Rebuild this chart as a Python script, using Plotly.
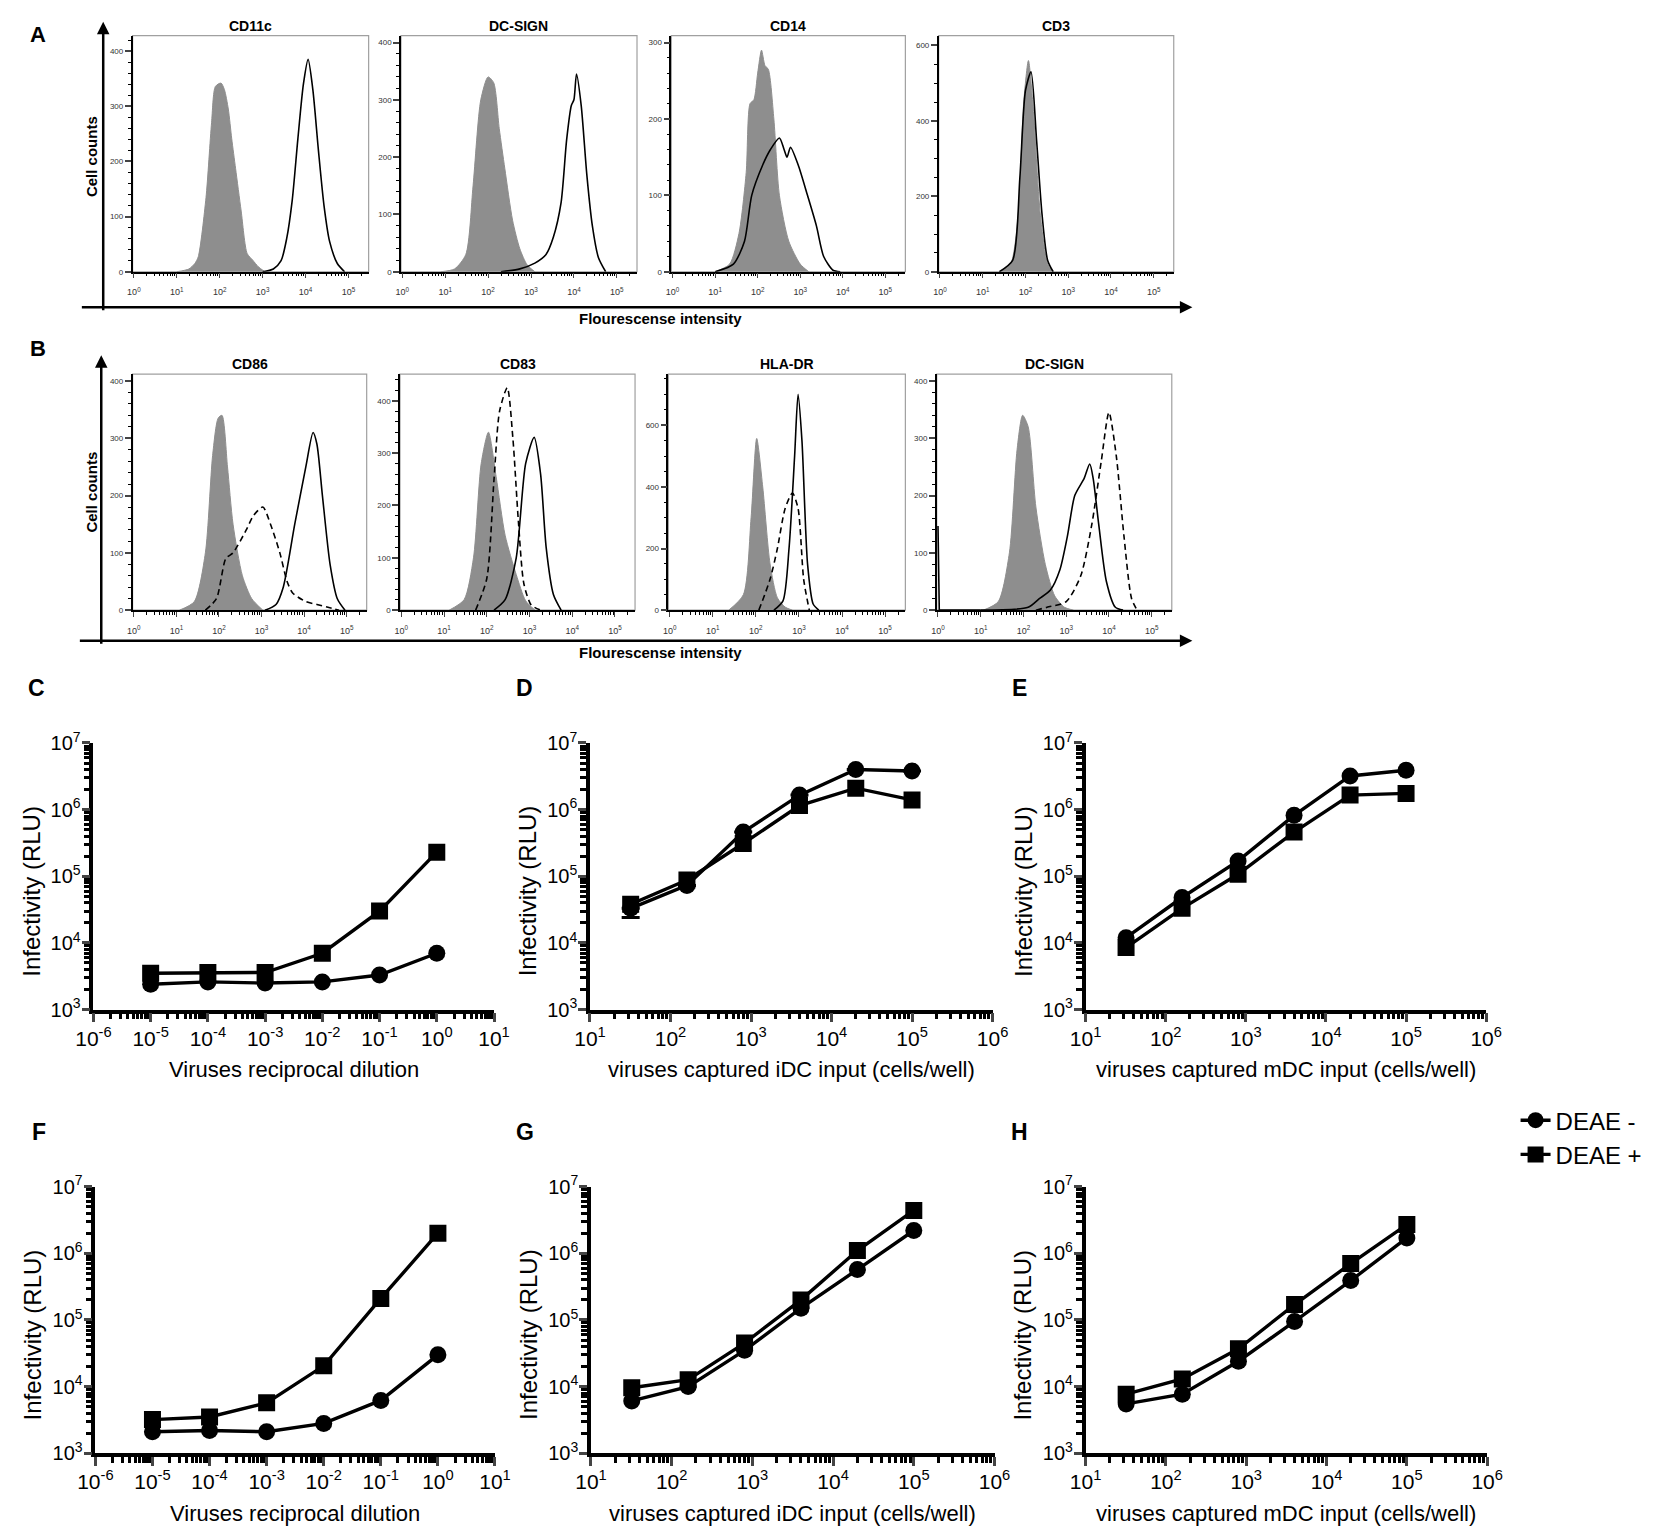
import plotly.graph_objects as go

W, H = 1654, 1540
FONT = "Liberation Sans, Arial, sans-serif"

# ---------- flow cytometry histograms (log10 intensity, cell counts) ----------
# A: iDC phenotype, grey = isotype, black = marker
A1_ISO_E = [1.0, 1.28, 1.42, 1.5, 1.68, 1.81, 1.9, 2.03, 2.11, 2.2, 2.28, 2.37, 2.5, 2.64, 2.77, 2.9, 3.05]
A1_ISO_N = [0, 5, 15, 27, 134, 270, 336, 342, 330, 295, 241, 187, 110, 33, 21, 9, 0]
A1_POS_E = [3.0, 3.25, 3.43, 3.56, 3.69, 3.82, 3.95, 4.06, 4.17, 4.3, 4.43, 4.56, 4.74, 4.91]
A1_POS_N = [0, 5, 20, 60, 130, 240, 340, 385, 330, 220, 120, 55, 15, 0]

A2_ISO_E = [0.9, 1.22, 1.48, 1.65, 1.83, 2.0, 2.13, 2.26, 2.39, 2.57, 2.74, 2.91, 3.09]
A2_ISO_N = [0, 5, 30, 150, 300, 340, 330, 250, 180, 90, 40, 12, 0]
A2_POS_E = [2.3, 2.74, 3.09, 3.35, 3.52, 3.7, 3.83, 3.94, 4.0, 4.06, 4.17, 4.3, 4.43, 4.57, 4.74]
A2_POS_N = [0, 5, 15, 30, 60, 120, 230, 290, 300, 345, 290, 170, 80, 25, 0]

A3_ISO_E = [1.0, 1.34, 1.56, 1.73, 1.82, 1.91, 2.0, 2.09, 2.17, 2.25, 2.38, 2.51, 2.73, 3.0, 3.2]
A3_ISO_N = [0, 10, 50, 130, 220, 225, 260, 290, 270, 265, 200, 100, 40, 10, 0]
A3_POS_E = [1.0, 1.43, 1.69, 1.86, 2.12, 2.3, 2.51, 2.62, 2.69, 2.77, 2.95, 3.17, 3.38, 3.55, 3.77, 3.94]
A3_POS_N = [0, 10, 40, 100, 140, 160, 175, 160, 150, 163, 140, 100, 60, 20, 2, 0]

A4_ISO_E = [1.39, 1.65, 1.83, 1.96, 2.07, 2.17, 2.35, 2.52, 2.65]
A4_ISO_N = [0, 20, 150, 450, 560, 450, 150, 20, 0]
A4_POS_E = [1.39, 1.7, 1.87, 2.0, 2.13, 2.26, 2.39, 2.52, 2.65]
A4_POS_N = [0, 30, 250, 480, 530, 350, 150, 30, 0]

# B: grey = isotype, dashed = iDC, solid = mDC
B1_ISO_E = [1.07, 1.42, 1.68, 1.85, 1.98, 2.07, 2.2, 2.33, 2.55, 2.77, 3.03]
B1_ISO_N = [0, 15, 100, 270, 335, 340, 250, 150, 60, 20, 0]
B1_IDC_E = [1.68, 1.94, 2.16, 2.33, 2.64, 2.81, 3.03, 3.21, 3.43, 3.6, 3.73, 4.04, 4.3, 4.56, 4.82]
B1_IDC_N = [0, 20, 90, 100, 140, 165, 180, 150, 100, 50, 30, 15, 10, 5, 0]
B1_MDC_E = [3.08, 3.34, 3.51, 3.78, 4.04, 4.21, 4.3, 4.43, 4.61, 4.78, 4.96]
B1_MDC_N = [0, 10, 40, 150, 250, 310, 290, 200, 80, 20, 0]

B2_ISO_E = [1.12, 1.47, 1.69, 1.87, 2.04, 2.22, 2.43, 2.69, 2.91, 3.13]
B2_ISO_N = [0, 20, 100, 280, 340, 255, 143, 68, 18, 0]
B2_IDC_E = [1.74, 2.0, 2.17, 2.3, 2.48, 2.61, 2.74, 2.87, 3.04, 3.26]
B2_IDC_N = [0, 60, 250, 380, 425, 330, 170, 50, 10, 0]
B2_MDC_E = [2.17, 2.43, 2.69, 2.91, 3.11, 3.26, 3.39, 3.56, 3.74]
B2_MDC_N = [0, 20, 100, 280, 330, 260, 120, 30, 0]

B3_ISO_E = [1.37, 1.71, 1.89, 2.02, 2.16, 2.33, 2.5, 2.68, 2.85]
B3_ISO_N = [0, 50, 300, 557, 400, 150, 40, 10, 0]
B3_IDC_E = [2.07, 2.33, 2.5, 2.68, 2.85, 2.98, 3.11, 3.24]
B3_IDC_N = [0, 100, 200, 330, 380, 330, 100, 0]
B3_MDC_E = [2.42, 2.63, 2.77, 2.9, 2.98, 3.07, 3.2, 3.33, 3.46]
B3_MDC_N = [0, 30, 200, 500, 700, 550, 150, 20, 0]

B4_ISO_E = [1.06, 1.41, 1.67, 1.85, 1.98, 2.11, 2.29, 2.51, 2.73, 2.96, 3.17]
B4_ISO_N = [0, 15, 100, 280, 340, 320, 180, 80, 25, 5, 0]
B4_IDC_E = [2.29, 2.55, 3.0, 3.34, 3.6, 3.82, 4.0, 4.17, 4.35, 4.53, 4.66]
B4_IDC_N = [0, 5, 15, 60, 150, 260, 345, 270, 130, 20, 0]
B4_SPIKE_E = [0.0, 0.015, 0.03, 1.0]
B4_SPIKE_N = [147, 60, 0, 0]
B4_MDC_E = [1.0, 2.11, 2.37, 2.63, 2.85, 3.03, 3.2, 3.42, 3.55, 3.63, 3.76, 3.94, 4.15, 4.33]
B4_MDC_N = [0, 5, 20, 35, 70, 130, 200, 230, 255, 230, 150, 50, 5, 0]

# ---------- infectivity curves ----------
DILUTION = [1e-5, 1e-4, 1e-3, 1e-2, 1e-1, 1]
CELLS = [32, 160, 800, 4000, 20000, 100000]

C_MINUS = [2400, 2600, 2500, 2600, 3300, 7000]
C_PLUS = [3500, 3600, 3600, 7000, 30000, 230000]
D_MINUS = [33000, 73000, 460000, 1650000, 4000000, 3800000]
D_MINUS_ERR = [9000, 0, 0, 0, 0, 0]
D_PLUS = [38000, 88000, 310000, 1150000, 2100000, 1400000]
E_MINUS = [12000, 48000, 170000, 820000, 3200000, 3900000]
E_PLUS = [8500, 33000, 107000, 460000, 1650000, 1750000]
F_MINUS = [2100, 2200, 2100, 2800, 6200, 30000]
F_PLUS = [3200, 3500, 5700, 20500, 210000, 2000000]
G_MINUS = [6100, 10000, 35000, 150000, 570000, 2200000]
G_PLUS = [9600, 12700, 45000, 200000, 1100000, 4400000]
H_MINUS = [5500, 7700, 24000, 95000, 390000, 1700000]
H_PLUS = [7700, 13000, 37000, 170000, 700000, 2700000]


def px_x(a, b):
    return [a / W, b / W]


def px_y(top, bottom):
    return [1 - bottom / H, 1 - top / H]


def sup(p):
    return "10<sup>%d</sup>" % p


def minor_vals(p0, p1):
    return [m * 10 ** p for p in range(p0, p1) for m in range(2, 10)]


def ax_names(n):
    s = "" if n == 1 else str(n)
    return "xaxis" + s, "yaxis" + s, "x" + s, "y" + s


fig = go.Figure()
layout = {}
shapes = []
annots = []


def text(x, y, t, size, bold=False, angle=0):
    annots.append(dict(x=x / W, y=1 - y / H, xref="paper", yref="paper", text=("<b>%s</b>" % t) if bold else t,
                       showarrow=False, textangle=angle, xanchor="center", yanchor="middle",
                       font=dict(family=FONT, size=size, color="black")))


def hist_line(xn, yn, es, ns, dash=None):
    fig.add_trace(go.Scatter(x=[10 ** e for e in es], y=ns, xaxis=xn, yaxis=yn, mode="lines",
                             line=dict(color="black", width=1.6, dash=dash, shape="spline", smoothing=0.7),
                             showlegend=False, hoverinfo="skip"))


def histo(n, title, xl, xr, top, bot, ymax, ydt, ymin, grey, dashed=None, solid=None, extra=None):
    xa, ya, xn, yn = ax_names(n)
    layout[xa] = dict(domain=px_x(xl, xr), anchor=yn, type="log", range=[-0.03, 5.47],
                      tickmode="array", tickvals=[10 ** p for p in range(6)], ticktext=[sup(p) for p in range(6)],
                      ticks="outside", ticklen=5, tickwidth=1.2, ticklabelstandoff=6,
                      showline=True, linecolor="black", linewidth=1.5, showgrid=False, zeroline=False,
                      tickfont=dict(family=FONT, size=9, color="#333"),
                      minor=dict(tickvals=[v for v in minor_vals(0, 6) if v < 10 ** 5.47], ticks="outside",
                                 ticklen=3, tickwidth=1, tickcolor="black", showgrid=False))
    layout[ya] = dict(domain=px_y(top, bot), anchor=xn, range=[0, ymax], dtick=ydt, tick0=0,
                      ticks="outside", ticklen=6, tickwidth=1.5, showline=True, linecolor="black",
                      linewidth=1.5, showgrid=False, zeroline=False,
                      tickfont=dict(family=FONT, size=8, color="#333"),
                      minor=dict(dtick=ymin, ticks="outside", ticklen=3, tickwidth=1, tickcolor="black",
                                 showgrid=False))
    shapes.append(dict(type="rect", xref=xn + " domain", yref=yn + " domain", x0=0, x1=1, y0=0, y1=1,
                       line=dict(color="#a0a0a0", width=1.2), layer="below"))
    ge, gn = grey
    fig.add_trace(go.Scatter(x=[10 ** e for e in ge], y=gn, xaxis=xn, yaxis=yn, mode="lines",
                             fill="tozeroy", fillcolor="#8e8e8e",
                             line=dict(color="#8e8e8e", width=1, shape="spline", smoothing=0.7),
                             showlegend=False, hoverinfo="skip"))
    if dashed:
        hist_line(xn, yn, dashed[0], dashed[1], dash="6px,4px")
    if solid:
        hist_line(xn, yn, solid[0], solid[1])
    if extra:
        fig.add_trace(go.Scatter(x=[10 ** e for e in extra[0]], y=extra[1], xaxis=xn, yaxis=yn, mode="lines",
                                 line=dict(color="black", width=1.6), showlegend=False, hoverinfo="skip"))
    text((xl + xr) / 2, top - 10, title, 14, bold=True)


def curves(n, letter, xl, xr, top, bot, xs, p0, p1, minus, plus, xtitle, err=None, legend=False):
    xa, ya, xn, yn = ax_names(n)
    layout[xa] = dict(domain=px_x(xl, xr), anchor=yn, type="log", range=[p0, p1],
                      tickmode="array", tickvals=[10 ** p for p in range(p0, p1 + 1)],
                      ticktext=[sup(p) for p in range(p0, p1 + 1)],
                      ticks="outside", ticklen=9, tickwidth=3, showline=True, linecolor="black",
                      linewidth=3.5, showgrid=False, zeroline=False, ticklabelstandoff=-2,
                      tickfont=dict(family=FONT, size=21, color="black"),
                      minor=dict(tickvals=minor_vals(p0, p1), ticks="outside", ticklen=6, tickwidth=2.5,
                                 tickcolor="black", showgrid=False))
    layout[ya] = dict(domain=px_y(top, bot), anchor=xn, type="log", range=[3, 7],
                      tickmode="array", tickvals=[10 ** p for p in range(3, 8)],
                      ticktext=[sup(p) for p in range(3, 8)],
                      ticks="outside", ticklen=8, tickwidth=3, showline=True, linecolor="black",
                      linewidth=3.5, showgrid=False, zeroline=False, ticklabelstandoff=-3,
                      tickfont=dict(family=FONT, size=20, color="black"),
                      minor=dict(tickvals=minor_vals(3, 7), ticks="outside", ticklen=6, tickwidth=2.5,
                                 tickcolor="black", showgrid=False))
    ey = None
    if err:
        ey = dict(type="data", symmetric=False, array=[0] * len(err), arrayminus=err,
                  color="black", thickness=3, width=9)
    fig.add_trace(go.Scatter(x=xs, y=minus, xaxis=xn, yaxis=yn, mode="lines+markers", name="DEAE -",
                             line=dict(color="black", width=3.4),
                             marker=dict(symbol="circle", size=17, color="black"),
                             error_y=ey, showlegend=legend, legendrank=1))
    fig.add_trace(go.Scatter(x=xs, y=plus, xaxis=xn, yaxis=yn, mode="lines+markers", name="DEAE +",
                             line=dict(color="black", width=3.4),
                             marker=dict(symbol="square", size=17, color="black"),
                             showlegend=legend, legendrank=2))
    text((xl + xr) / 2, bot + 61, xtitle, 22)
    text(xl - 64, (top + bot) / 2 + 15, "Infectivity (RLU)", 24, angle=-90)
    text(xl - 58 if xl < 200 else xl - 67, top - 56, letter, 23, bold=True)


# panel A
histo(1, "CD11c", 117, 358, 22, 262, 428, 100, 20, (A1_ISO_E, A1_ISO_N), solid=(A1_POS_E, A1_POS_N))
histo(2, "DC-SIGN", 391, 632, 22, 262, 412, 100, 20, (A2_ISO_E, A2_ISO_N), solid=(A2_POS_E, A2_POS_N))
histo(3, "CD14", 667, 906, 22, 262, 309, 100, 20, (A3_ISO_E, A3_ISO_N), solid=(A3_POS_E, A3_POS_N))
histo(4, "CD3", 940, 1180, 22, 262, 626, 200, 50, (A4_ISO_E, A4_ISO_N), solid=(A4_POS_E, A4_POS_N))
# panel B
histo(5, "CD86", 117, 356, 366, 606, 412, 100, 20, (B1_ISO_E, B1_ISO_N), (B1_IDC_E, B1_IDC_N), (B1_MDC_E, B1_MDC_N))
histo(6, "CD83", 390, 630, 366, 606, 451, 100, 20, (B2_ISO_E, B2_ISO_N), (B2_IDC_E, B2_IDC_N), (B2_MDC_E, B2_MDC_N))
histo(7, "HLA-DR", 664, 906, 366, 606, 766, 200, 50, (B3_ISO_E, B3_ISO_N), (B3_IDC_E, B3_IDC_N), (B3_MDC_E, B3_MDC_N))
histo(8, "DC-SIGN", 938, 1178, 366, 606, 412, 100, 20, (B4_ISO_E, B4_ISO_N), (B4_IDC_E, B4_IDC_N), (B4_MDC_E, B4_MDC_N),
      extra=(B4_SPIKE_E, B4_SPIKE_N))

# panels C-H
curves(9, "C", 77, 486, 741, 1012, DILUTION, -6, 1, C_MINUS, C_PLUS, "Viruses reciprocal dilution", legend=True)
curves(10, "D", 584, 995, 741, 1012, CELLS, 1, 6, D_MINUS, D_PLUS, "viruses captured iDC input (cells/well)", err=D_MINUS_ERR)
curves(11, "E", 1090, 1499, 741, 1012, CELLS, 1, 6, E_MINUS, E_PLUS, "viruses captured mDC input (cells/well)")
curves(12, "F", 79, 487, 1192, 1463, DILUTION, -6, 1, F_MINUS, F_PLUS, "Viruses reciprocal dilution")
curves(13, "G", 585, 997, 1192, 1463, CELLS, 1, 6, G_MINUS, G_PLUS, "viruses captured iDC input (cells/well)")
curves(14, "H", 1090, 1500, 1192, 1463, CELLS, 1, 6, H_MINUS, H_PLUS, "viruses captured mDC input (cells/well)")

# big arrows and labels for the histogram rows
for x0, ytip, ybase in [(87, 8, 298), (85, 347, 637)]:
    annots.append(dict(x=x0 / W, y=1 - ytip / H, xref="paper", yref="paper", ax=0, ay=ybase - ytip,
                       text="", showarrow=True, arrowhead=2, arrowsize=1, arrowwidth=2.5, arrowcolor="black"))
    annots.append(dict(x=1199 / W, y=1 - ybase / H, xref="paper", yref="paper", ax=-(1199 - x0), ay=0,
                       text="", showarrow=True, arrowhead=2, arrowsize=1, arrowwidth=2.5, arrowcolor="black"))
text(75, 145, "Cell counts", 15, bold=True, angle=-90)
text(75, 486, "Cell counts", 15, bold=True, angle=-90)
text(656, 310, "Flourescense intensity", 15, bold=True)
text(656, 649, "Flourescense intensity", 15, bold=True)
text(20, 21, "A", 22, bold=True)
text(20, 340, "B", 22, bold=True)

layout.update(
    width=W, height=H, autosize=False,
    margin=dict(l=0, r=0, t=0, b=0),
    paper_bgcolor="white", plot_bgcolor="white",
    font=dict(family=FONT, color="black"),
    shapes=shapes, annotations=annots,
    showlegend=True,
    legend=dict(x=1529 / W, y=1 - 1102 / H, xanchor="left", yanchor="top",
                font=dict(family=FONT, size=24, color="black"), bgcolor="rgba(0,0,0,0)",
                itemwidth=30, tracegroupgap=0),
)
fig.update_layout(**layout)

fig.write_html("out.html", config={"displayModeBar": False},
               post_script="document.body.style.margin='0';")
